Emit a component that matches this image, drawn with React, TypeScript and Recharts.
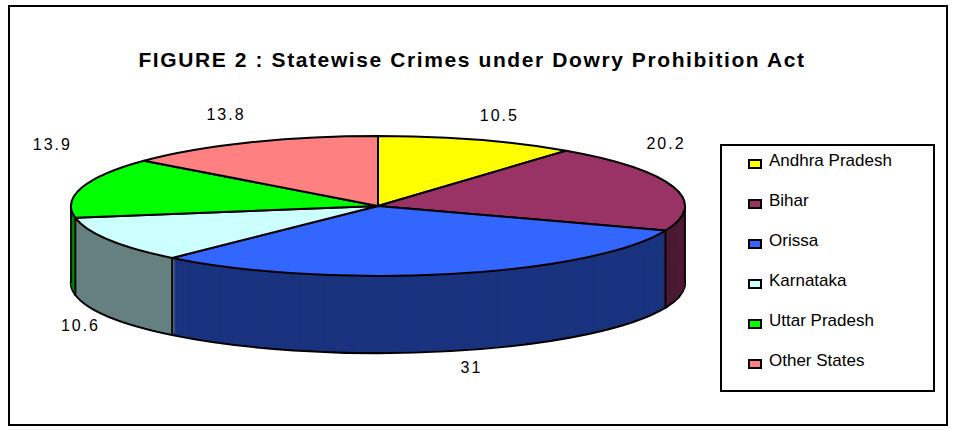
import React from 'react';
import { PieChart, Pie, Cell, Legend } from 'recharts';

const states = ['Andhra Pradesh', 'Bihar', 'Orissa', 'Karnataka', 'Uttar Pradesh', 'Other States'];
const shares = [10.5, 20.2, 31, 10.6, 13.9, 13.8];
const topColors = ['#FFFF00', '#993366', '#3366FF', '#CCFFFF', '#00FF00', '#FF8080'];
const sideColors = ['#808000', '#4D1A33', '#1A337F', '#668080', '#008000', '#804040'];

const data = states.map((name, i) => ({ name, value: shares[i] }));

const W = 954;
const H = 430;
// ellipse of the top face and thickness of the disc
const CX = 378;
const CY = 206;
const RX = 307;
const RY = 70;
const DEPTH = 77;
const SQUASH = RY / RX;
const FONT = "'Liberation Sans', Arial, Helvetica, sans-serif";

// one flat pie per pixel of thickness, drawn from the bottom up
const layers = Array.from({ length: DEPTH }, (_, i) => DEPTH - i);

const css = `
.pie3d .recharts-sector {
  transform: scale(1, ${SQUASH});
  transform-origin: 0 0;
  vector-effect: non-scaling-stroke;
}
`;

const rad = Math.PI / 180;

const edgeX = (a: number) => CX + RX * Math.cos(a * rad);
const edgeY = (a: number) => CY - RY * Math.sin(a * rad);

const renderLabel = (props: any) => {
  const { midAngle, startAngle, endAngle, value, index } = props;
  const sx = Math.cos(midAngle * rad);
  const sy = Math.sin(midAngle * rad);

  let x = CX + (RX + 12) * sx + Math.sign(sx) * 18;
  x = Math.min(Math.max(x, 44), 666);
  const y = sy > 0
    ? CY - ((RY + 11) * sy + 42 * Math.abs(sx))
    : CY + DEPTH + (RY + 17) * Math.abs(sy);

  // vertical edges of the side wall
  const edges: number[] = [];
  if (Math.sin(startAngle * rad) < -0.001) edges.push(startAngle);
  const lo = Math.min(startAngle, endAngle);
  const hi = Math.max(startAngle, endAngle);
  [0, -180, 180, -360].forEach((a) => {
    if (a > lo && a < hi) edges.push(a);
  });

  return (
    <g key={`lbl-${index}`}>
      {edges.map((a, j) => (
        <line
          key={j}
          x1={edgeX(a)}
          y1={edgeY(a)}
          x2={edgeX(a)}
          y2={edgeY(a) + DEPTH}
          stroke="#000"
          strokeWidth={1.8}
        />
      ))}
      <text
        x={x}
        y={y}
        dy="0.35em"
        textAnchor="middle"
        fill="#000"
        fontSize={16}
        letterSpacing={2}
        fontFamily={FONT}
      >
        {value}
      </text>
    </g>
  );
};

const renderLegend = () => (
  <div
    style={{
      boxSizing: 'border-box',
      width: 215,
      height: 248,
      border: '2px solid #000',
      background: '#fff',
      position: 'relative',
      fontFamily: FONT,
    }}
  >
    {states.map((name, i) => (
      <div key={name}>
        <div
          style={{
            position: 'absolute',
            left: 26,
            top: 13 + i * 40,
            width: 14,
            height: 10,
            boxSizing: 'border-box',
            border: '2px solid #000',
            background: topColors[i],
          }}
        />
        <div
          style={{
            position: 'absolute',
            left: 47,
            top: 6 + i * 40,
            fontSize: 17,
            lineHeight: '17px',
            color: '#000',
            whiteSpace: 'nowrap',
          }}
        >
          {name}
        </div>
      </div>
    ))}
  </div>
);

export default function App() {
  return (
    <div style={{ position: 'absolute', left: 0, top: 0, width: W, height: H, background: '#fff' }}>
      <style>{css}</style>
      <div
        style={{
          position: 'absolute',
          left: 8,
          top: 5,
          width: 940,
          height: 421,
          boxSizing: 'border-box',
          border: '2px solid #000',
        }}
      />
      <div
        style={{
          position: 'absolute',
          left: 0,
          top: 49,
          width: 944,
          textAlign: 'center',
          fontFamily: FONT,
          fontWeight: 'bold',
          fontSize: 21,
          lineHeight: '21px',
          letterSpacing: 1.6,
          color: '#000',
        }}
      >
        FIGURE 2 : Statewise Crimes under Dowry Prohibition Act
      </div>
      <div className="pie3d" style={{ position: 'absolute', left: 0, top: 0 }}>
        <PieChart width={W} height={H} margin={{ top: 0, right: 0, bottom: 0, left: 0 }}>
          {layers.map((k) => (
            <Pie
              key={`layer-${k}`}
              data={data}
              dataKey="value"
              nameKey="name"
              cx={CX}
              cy={(CY + k) / SQUASH}
              outerRadius={RX}
              startAngle={90}
              endAngle={-270}
              stroke={k === DEPTH ? '#000' : 'none'}
              strokeWidth={k === DEPTH ? 2.2 : 0}
              legendType="none"
              isAnimationActive={false}
            >
              {data.map((d, i) => (
                <Cell key={d.name} fill={sideColors[i]} />
              ))}
            </Pie>
          ))}
          <Pie
            data={data}
            dataKey="value"
            nameKey="name"
            cx={CX}
            cy={CY / SQUASH}
            outerRadius={RX}
            startAngle={90}
            endAngle={-270}
            stroke="#000"
            strokeWidth={2}
            label={renderLabel}
            labelLine={false}
            legendType="square"
            isAnimationActive={false}
          >
            {data.map((d, i) => (
              <Cell key={d.name} fill={topColors[i]} />
            ))}
          </Pie>
          <Legend
            layout="vertical"
            align="right"
            verticalAlign="middle"
            content={renderLegend}
            wrapperStyle={{ left: 720, top: 144, width: 215, height: 248 }}
          />
        </PieChart>
      </div>
    </div>
  );
}
